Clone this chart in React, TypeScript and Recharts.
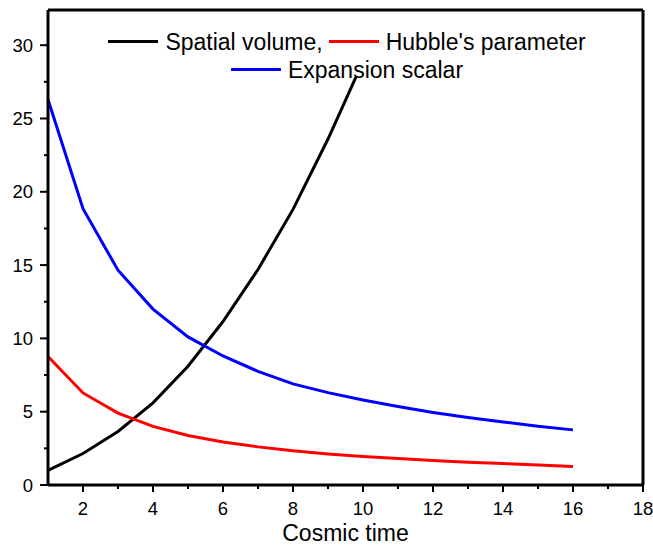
import React from 'react'
import { LineChart, Line, XAxis, YAxis, Legend, ReferenceLine, Label } from 'recharts'

const FONT = '"Liberation Sans", Arial, sans-serif'

// cosmic time samples
const times = [1, 2, 3, 4, 5, 6, 7, 8, 9, 10, 11, 12, 13, 14, 15, 16]
// spatial volume runs off the top of the frame after t = 10
const spatialVolume = [1.0, 2.15, 3.65, 5.6, 8.1, 11.15, 14.7, 18.8, 23.6, 28.9]
const hubbleParam = [8.77, 6.28, 4.9, 4.0, 3.38, 2.94, 2.6, 2.33, 2.12, 1.95, 1.8, 1.67, 1.56, 1.46, 1.36, 1.26]
const expansionScalar = [26.3, 18.85, 14.65, 12.0, 10.1, 8.8, 7.75, 6.9, 6.3, 5.8, 5.35, 4.95, 4.6, 4.3, 4.0, 3.76]

const xMajor = [2, 4, 6, 8, 10, 12, 14, 16, 18]
const xMinor = [3, 5, 7, 9, 11, 13, 15, 17]
const yMajor = [0, 5, 10, 15, 20, 25, 30]
const yMinor = [2.5, 7.5, 12.5, 17.5, 22.5, 27.5]

const SERIES = [
  { key: 'volume', name: 'Spatial volume,', color: '#000000' },
  { key: 'hubble', name: "Hubble's parameter", color: '#ff0000' },
  { key: 'expansion', name: 'Expansion scalar', color: '#0000ff' }
]

const data = times.map((t, i) => ({
  t,
  volume: spatialVolume[i],
  hubble: hubbleParam[i],
  expansion: expansionScalar[i]
}))

const XTick = (props: any) => {
  const { x, y, payload } = props
  const major = xMajor.includes(payload.value)
  return (
    <g>
      <line x1={x} x2={x} y1={y} y2={y + (major ? 7 : 4)} stroke="#000" strokeWidth={2} />
      {major && (
        <text x={x} y={y + 30} textAnchor="middle" fontSize={18.5} fontFamily={FONT} fill="#000">
          {payload.value}
        </text>
      )}
    </g>
  )
}

const YTick = (props: any) => {
  const { x, y, payload } = props
  const major = yMajor.includes(payload.value)
  return (
    <g>
      <line x1={x - (major ? 8 : 4)} x2={x} y1={y} y2={y} stroke="#000" strokeWidth={2} />
      {major && (
        <text x={x - 15} y={y + 6.5} textAnchor="end" fontSize={18.5} fontFamily={FONT} fill="#000">
          {payload.value}
        </text>
      )}
    </g>
  )
}

const LegendItem = ({ color, label }: { color: string; label: string }) => (
  <span style={{ display: 'inline-flex', alignItems: 'center', marginRight: 6 }}>
    <span style={{ display: 'inline-block', width: 50, height: 3, background: color, marginRight: 7 }} />
    <span>{label}</span>
  </span>
)

const renderLegend = () => (
  <div style={{ fontFamily: FONT, fontSize: 23, color: '#000', textAlign: 'center' }}>
    <div style={{ height: 28, lineHeight: '28px' }}>
      {SERIES.slice(0, 2).map((s) => (
        <LegendItem key={s.key} color={s.color} label={s.name} />
      ))}
    </div>
    <div style={{ height: 28, lineHeight: '28px' }}>
      {SERIES.slice(2).map((s) => (
        <LegendItem key={s.key} color={s.color} label={s.name} />
      ))}
    </div>
  </div>
)

export default function App() {
  return (
    <div style={{ position: 'absolute', left: 0, top: 0, background: '#fff' }}>
      <LineChart width={653} height={547} data={data} margin={{ top: 10, right: 10, left: 0, bottom: 0 }}>
        <XAxis
          dataKey="t"
          type="number"
          domain={[1, 18]}
          ticks={[...xMinor, ...xMajor].sort((a, b) => a - b)}
          interval={0}
          tickLine={false}
          tickSize={0}
          tickMargin={0}
          tick={(p: any) => <XTick {...p} />}
          axisLine={{ stroke: '#000', strokeWidth: 3 }}
          height={62}
        >
          <Label
            value="Cosmic time"
            position="insideBottom"
            offset={6}
            style={{ fontSize: 23, fontFamily: FONT, fill: '#000' }}
          />
        </XAxis>
        <YAxis
          type="number"
          domain={[0, 32.4]}
          ticks={[...yMinor, ...yMajor].sort((a, b) => a - b)}
          interval={0}
          tickLine={false}
          tickSize={0}
          tickMargin={0}
          tick={(p: any) => <YTick {...p} />}
          axisLine={{ stroke: '#000', strokeWidth: 3 }}
          allowDataOverflow
          width={48}
        />
        <ReferenceLine y={32.4} stroke="#000" strokeWidth={3} />
        <ReferenceLine x={18} stroke="#000" strokeWidth={3} />
        {SERIES.map((s) => (
          <Line
            key={s.key}
            dataKey={s.key}
            name={s.name}
            stroke={s.color}
            strokeWidth={3}
            dot={false}
            type="linear"
            isAnimationActive={false}
          />
        ))}
        <Legend
          verticalAlign="middle"
          content={renderLegend}
          wrapperStyle={{ top: 21, left: 100, width: 500, height: 56, background: '#fff' }}
        />
      </LineChart>
    </div>
  )
}
